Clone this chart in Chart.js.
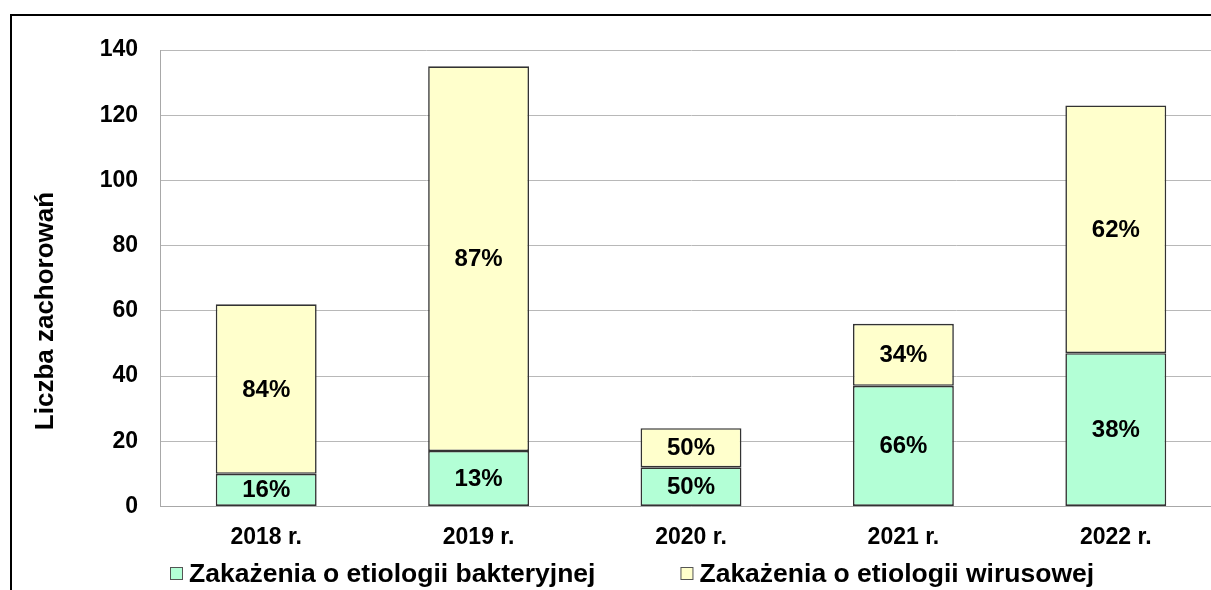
<!DOCTYPE html>
<html>
<head>
<meta charset="utf-8">
<script src="https://cdn.jsdelivr.net/npm/chart.js@4.4.0/dist/chart.umd.min.js"></script>
<style>
	html, body { margin: 0; padding: 0; background: #fff; overflow: hidden; }
	#wrap { position: absolute; left: 0; top: 0; width: 1240px; height: 590px; }
	#frame { position: absolute; left: 10px; top: 14px; width: 1300px; height: 700px;
		border-top: 2px solid #000; border-left: 2px solid #000; pointer-events: none; }
</style>
</head>
<body>
<div id="wrap"><canvas id="chart"></canvas></div>
<div id="frame"></div>
<script>
// data
const years = ['2018 r.', '2019 r.', '2020 r.', '2021 r.', '2022 r.'];
const bacterial = [10, 17, 12, 37, 47];
const viral = [52, 118, 12, 19, 76];
const seriesNames = ['Zakażenia o etiologii bakteryjnej', 'Zakażenia o etiologii wirusowej'];
const yTicks = [0, 20, 40, 60, 80, 100, 120, 140];
const yTitle = 'Liczba zachorowań';

const FONT = '"Liberation Sans", Arial, sans-serif';

// percentage of the year's total, printed inside each segment
const pctLabels = {
	id: 'pctLabels',
	afterDatasetsDraw(chart) {
		const ctx = chart.ctx;
		ctx.save();
		ctx.font = 'bold 24px ' + FONT;
		ctx.fillStyle = '#000';
		ctx.textAlign = 'center';
		ctx.textBaseline = 'middle';
		chart.data.datasets.forEach((ds, di) => {
			chart.getDatasetMeta(di).data.forEach((bar, i) => {
				const total = bacterial[i] + viral[i];
				const pct = Math.round(ds.data[i] / total * 100);
				ctx.fillText(pct + '%', bar.x, (bar.y + bar.base) / 2 + 1);
			});
		});
		ctx.restore();
	}
};

// axis title and legend drawn by hand so they sit where the original has them
const extras = {
	id: 'extras',
	afterDraw(chart) {
		const ctx = chart.ctx;
		ctx.save();
		ctx.fillStyle = '#000';
		ctx.font = 'bold 26px ' + FONT;
		ctx.textAlign = 'center';
		ctx.textBaseline = 'middle';
		ctx.translate(46, 311);
		ctx.rotate(-Math.PI / 2);
		ctx.fillText(yTitle, 0, 0);
		ctx.restore();

		ctx.save();
		ctx.font = 'bold 26.5px ' + FONT;
		ctx.textBaseline = 'middle';
		ctx.textAlign = 'left';
		let x = 170;
		chart.data.datasets.forEach(ds => {
			ctx.fillStyle = ds.backgroundColor;
			ctx.fillRect(x + 0.5, 567.5, 12, 12);
			ctx.strokeStyle = '#555';
			ctx.lineWidth = 1;
			ctx.strokeRect(x + 0.5, 567.5, 12, 12);
			ctx.fillStyle = '#000';
			ctx.fillText(ds.label, x + 19, 575);
			x += 19 + ctx.measureText(ds.label).width + 85;
		});
		ctx.restore();
	}
};

document.addEventListener('DOMContentLoaded', function(){
	const ctx = document.getElementById('chart').getContext('2d');
	new Chart(ctx, {
		type: 'bar',
		data: {
			labels: years,
			datasets: [
				{ label: seriesNames[0], data: bacterial, backgroundColor: '#b3ffd6',
					borderColor: '#333', borderWidth: 1.6, borderSkipped: false },
				{ label: seriesNames[1], data: viral, backgroundColor: '#ffffcc',
					borderColor: '#333', borderWidth: 1.6, borderSkipped: false }
			]
		},
		options: {
			responsive: true,
			maintainAspectRatio: false,
			animation: false,
			layout: { padding: { top: 50, left: 0, right: 18, bottom: 30 } },
			plugins: { legend: { display: false }, tooltip: { enabled: false } },
			datasets: { bar: { barPercentage: 0.475, categoryPercentage: 1 } },
			scales: {
				x: {
					stacked: true,
					grid: { display: false },
					border: { display: true, color: '#a8a8a8', width: 1 },
					ticks: { color: '#000', font: { family: FONT, size: 23, weight: 'bold' }, padding: 9 }
				},
				y: {
					stacked: true,
					min: yTicks[0],
					max: yTicks[yTicks.length - 1],
					afterBuildTicks: s => { s.ticks = yTicks.map(v => ({ value: v })); },
					afterFit: s => { s.width = 160; },
					grid: { color: '#b8b8b8', drawTicks: false },
					border: { display: true, color: '#a8a8a8', width: 1 },
					ticks: { color: '#000', font: { family: FONT, size: 23, weight: 'bold' }, padding: 22 }
				}
			}
		},
		plugins: [pctLabels, extras]
	});
});
</script>
</body>
</html>
